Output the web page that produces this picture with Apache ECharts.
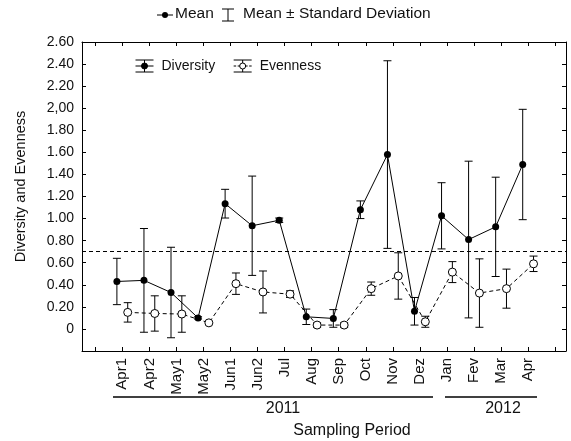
<!DOCTYPE html>
<html>
<head>
<meta charset="utf-8">
<script src="https://cdn.jsdelivr.net/npm/echarts@6/dist/echarts.min.js"></script>
<style>
  html, body { margin: 0; padding: 0; background: #fff; }
  #chart { width: 571px; height: 441px; }
</style>
</head>
<body>
<div id="chart"></div>
<script>
// ---- data ----
const categories = ['Apr1','Apr2','May1','May2','Jun1','Jun2','Jul','Aug','Sep','Oct','Nov','Dez','Jan','Fev','Mar','Apr'];
const diversityMean = [0.43, 0.44, 0.33, 0.10, 1.135, 0.935, 0.985, 0.11, 0.095, 1.08, 1.58, 0.16, 1.025, 0.81, 0.925, 1.49];
const diversitySD   = [0.21, 0.47, 0.41, 0.01, 0.13, 0.45, 0.02, 0.07, 0.08, 0.08, 0.85, 0.125, 0.30, 0.71, 0.45, 0.50];
const evennessMean  = [0.15, 0.14, 0.135, 0.055, 0.41, 0.335, 0.315, 0.035, 0.035, 0.365, 0.48, 0.065, 0.515, 0.325, 0.365, 0.59];
const evennessSD    = [0.088, 0.16, 0.165, 0, 0.097, 0.19, 0.03, 0.02, 0.02, 0.06, 0.21, 0.05, 0.095, 0.31, 0.177, 0.07];
const yTickLabels = ['0','0.20','0.40','0.60','0.80','1.00','1.20','1.40','1.60','1.80','2,00','2.20','2.40','2.60'];
const threshold = 0.70;
const years = ['2011', '2012'];
const seriesNames = ['Diversity', 'Evenness'];

const FONT = 'Liberation Sans, Arial, Helvetica, sans-serif';
const TXT = '#111';

const catPos = categories.map((c, i) => i + 1);
const xTicks = [0].concat(catPos).concat([categories.length + 1]);
const shift = 0.2;

function meanPoints(means, dx) {
  return means.map((m, i) => [catPos[i] + dx, m]);
}
function barPoints(means, sds, dx) {
  return means.map((m, i) => [catPos[i] + dx, m - sds[i], m + sds[i], sds[i]]);
}

function renderErrorBar(params, api) {
  if (api.value(3) === 0) return null;
  const x = api.value(0);
  const lo = api.coord([x, api.value(1)]);
  const hi = api.coord([x, api.value(2)]);
  const w = 4;
  const st = { stroke: '#000', lineWidth: 1 };
  return {
    type: 'group',
    children: [
      { type: 'line', shape: { x1: hi[0], y1: hi[1], x2: lo[0], y2: lo[1] }, style: st },
      { type: 'line', shape: { x1: hi[0] - w, y1: hi[1], x2: hi[0] + w, y2: hi[1] }, style: st },
      { type: 'line', shape: { x1: lo[0] - w, y1: lo[1], x2: lo[0] + w, y2: lo[1] }, style: st }
    ]
  };
}

const divIcon = 'path://M0 0 L18 0 M0 12 L18 12 M0 6 L18 6 M9 0 L9 12 M9 3 A3 3 0 1 1 9 9 A3 3 0 1 1 9 3 Z';
const evenIcon = 'path://M0 0 L18 0 M0 12 L18 12 M9 0 L9 3 M9 9 L9 12 M0 6 L2.5 6 M4 6 L6 6 M12 6 L14 6 M15.5 6 L18 6 M9 3 A3 3 0 1 1 9 9 A3 3 0 1 1 9 3 Z';

const gridLeft = 82, gridRight = 5, gridTop = 42, gridBottom = 90;

const axisLineStyle = { color: '#000', width: 1 };

const option = {
  animation: false,
  backgroundColor: '#fff',
  textStyle: { fontFamily: FONT, color: TXT },
  grid: { left: gridLeft, right: gridRight, top: gridTop, bottom: gridBottom, show: false },
  legend: {
    left: 130, top: 54,
    itemWidth: 18, itemHeight: 12, itemGap: 18,
    textStyle: { fontFamily: FONT, fontSize: 14, color: TXT, padding: [0, 0, 0, 3] },
    data: [
      { name: seriesNames[0], icon: divIcon, itemStyle: { color: '#000', borderColor: '#000', borderWidth: 1 } },
      { name: seriesNames[1], icon: evenIcon, itemStyle: { color: '#fff', borderColor: '#000', borderWidth: 1 } }
    ],
    selectedMode: false
  },
  xAxis: [
    {
      type: 'value', min: -0.49, max: 17.4, position: 'bottom',
      splitLine: { show: false },
      axisLine: { show: true, onZero: false, lineStyle: axisLineStyle },
      axisTick: { show: true, inside: true, length: 4, customValues: xTicks, lineStyle: axisLineStyle },
      axisLabel: {
        customValues: catPos, rotate: 90, margin: 7,
        fontFamily: FONT, fontSize: 15, color: TXT,
        formatter: v => categories[Math.round(v) - 1] || ''
      }
    },
    {
      type: 'value', min: -0.49, max: 17.4, position: 'top',
      splitLine: { show: false },
      axisLine: { show: true, onZero: false, lineStyle: axisLineStyle },
      axisTick: { show: true, inside: true, length: 4, customValues: xTicks, lineStyle: axisLineStyle },
      axisLabel: { show: false }
    }
  ],
  yAxis: [
    {
      type: 'value', min: -0.2, max: 2.6, interval: 0.2, position: 'left',
      splitLine: { show: false },
      axisLine: { show: true, onZero: false, lineStyle: axisLineStyle },
      axisTick: { show: true, inside: true, length: 4, lineStyle: axisLineStyle },
      axisLabel: {
        fontFamily: FONT, fontSize: 14, color: TXT, margin: 8,
        formatter: v => { const k = Math.round(v / 0.2); return k < 0 ? '' : (yTickLabels[k] || ''); }
      },
      name: 'Diversity and Evenness', nameLocation: 'middle', nameGap: 54,
      nameTextStyle: { fontFamily: FONT, fontSize: 14.5, color: TXT, padding: [0, 0, 0, 20] }
    },
    {
      type: 'value', min: -0.2, max: 2.6, interval: 0.2, position: 'right',
      splitLine: { show: false },
      axisLine: { show: true, onZero: false, lineStyle: axisLineStyle },
      axisTick: { show: true, inside: true, length: 4, lineStyle: axisLineStyle },
      axisLabel: { show: false }
    }
  ],
  series: [
    {
      name: seriesNames[0], type: 'custom', renderItem: renderErrorBar,
      data: barPoints(diversityMean, diversitySD, -shift),
      encode: { x: 0, y: [1, 2] }, z: 2, silent: true
    },
    {
      name: seriesNames[1], type: 'custom', renderItem: renderErrorBar,
      data: barPoints(evennessMean, evennessSD, shift),
      encode: { x: 0, y: [1, 2] }, z: 2, silent: true
    },
    {
      name: seriesNames[0], type: 'line',
      data: meanPoints(diversityMean, -shift),
      symbol: 'circle', symbolSize: 7,
      itemStyle: { color: '#000' },
      lineStyle: { color: '#000', width: 1 },
      z: 4, silent: true,
      markLine: {
        silent: true, symbol: 'none', label: { show: false },
        lineStyle: { color: '#000', type: [4, 3], width: 1.2 },
        data: [{ yAxis: threshold }]
      }
    },
    {
      name: seriesNames[1], type: 'line',
      data: meanPoints(evennessMean, shift),
      symbol: 'circle', symbolSize: 8,
      itemStyle: { color: '#fff', borderColor: '#000', borderWidth: 1 },
      lineStyle: { color: '#000', width: 1, type: [4, 3] },
      z: 5, silent: true
    }
  ],
  graphic: [
    // top key: mean
    { type: 'line', shape: { x1: 157, y1: 15, x2: 173, y2: 15 }, style: { stroke: '#000', lineWidth: 1 } },
    { type: 'circle', shape: { cx: 165, cy: 15, r: 3 }, style: { fill: '#000' } },
    { type: 'text', left: 175, top: 6, style: { text: 'Mean', font: '15.5px ' + FONT, fill: TXT } },
    // top key: mean +- sd
    { type: 'line', shape: { x1: 222, y1: 9, x2: 234, y2: 9 }, style: { stroke: '#000', lineWidth: 1 } },
    { type: 'line', shape: { x1: 228, y1: 9, x2: 228, y2: 21 }, style: { stroke: '#000', lineWidth: 1 } },
    { type: 'line', shape: { x1: 222, y1: 21, x2: 234, y2: 21 }, style: { stroke: '#000', lineWidth: 1 } },
    { type: 'text', left: 243, top: 6, style: { text: 'Mean \u00b1 Standard Deviation', font: '15.5px ' + FONT, fill: TXT } },
    // year brackets
    { type: 'line', shape: { x1: 113, y1: 397, x2: 433, y2: 397 }, style: { stroke: '#000', lineWidth: 1.6 } },
    { type: 'line', shape: { x1: 445, y1: 397, x2: 537, y2: 397 }, style: { stroke: '#000', lineWidth: 1.6 } },
    { type: 'text', x: 283, y: 409, style: { text: years[0], font: '16px ' + FONT, fill: TXT, align: 'center', verticalAlign: 'middle' } },
    { type: 'text', x: 503, y: 409, style: { text: years[1], font: '16px ' + FONT, fill: TXT, align: 'center', verticalAlign: 'middle' } },
    { type: 'text', x: 352, y: 431, style: { text: 'Sampling Period', font: '16px ' + FONT, fill: TXT, align: 'center', verticalAlign: 'middle' } }
  ]
};

const chart = echarts.init(document.getElementById('chart'), null, { renderer: 'canvas' });
chart.setOption(option);
</script>
</body>
</html>
